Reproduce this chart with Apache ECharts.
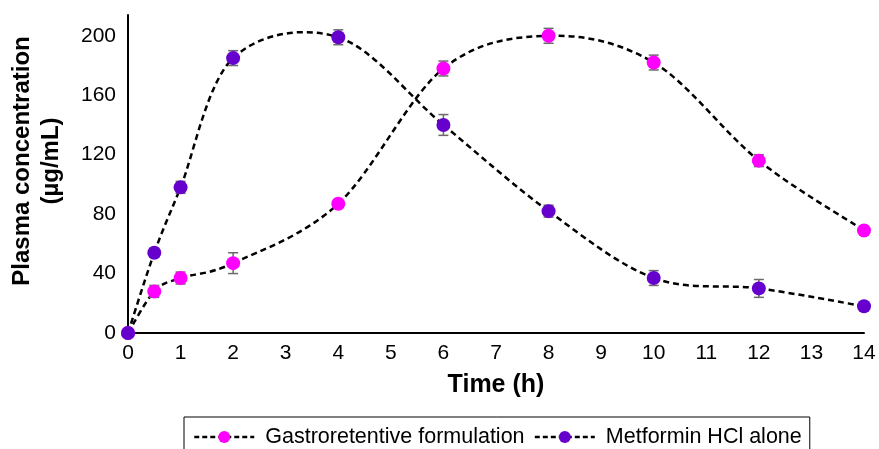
<!DOCTYPE html>
<html>
<head>
<meta charset="utf-8">
<script src="https://cdn.jsdelivr.net/npm/echarts@6/dist/echarts.min.js"></script>
<style>
  html, body { margin: 0; padding: 0; background: #fff; }
  #chart { width: 879px; height: 449px; }
</style>
</head>
<body>
<div id="chart"></div>
<script>
// sampling times (h)
var times = [0, 0.5, 1, 2, 4, 6, 8, 10, 12, 14];
// plasma concentration, µg/mL
var gastroValues = [0, 28, 37, 47, 87, 178, 200, 182, 116, 69];
var gastroErr = [0, 4, 4, 7, 2, 5, 5, 5, 4, 0];
var metforminValues = [0, 54, 98, 185, 199, 140, 82, 37, 30, 18];
var metforminErr = [0, 3, 4, 5, 5, 7, 4, 5, 6, 0];
var seriesNames = ['Gastroretentive formulation', 'Metformin HCl alone'];

var FONT = '"Liberation Sans", Arial, sans-serif';
var DASH = [6, 4];

function pairs(vals) {
  return times.map(function (t, i) { return [t, vals[i]]; });
}
function errRows(vals, errs) {
  return times.map(function (t, i) { return [t, vals[i] - errs[i], vals[i] + errs[i]]; });
}

// whisker with caps
function renderErr(params, api) {
  var x = api.value(0);
  var lo = api.coord([x, api.value(1)]);
  var hi = api.coord([x, api.value(2)]);
  if (Math.abs(hi[1] - lo[1]) < 1) return;
  var w = 5;
  var st = { stroke: '#6a6a6a', lineWidth: 1.5 };
  return {
    type: 'group',
    children: [
      { type: 'line', shape: { x1: lo[0], y1: lo[1], x2: hi[0], y2: hi[1] }, style: st },
      { type: 'line', shape: { x1: lo[0] - w, y1: lo[1], x2: lo[0] + w, y2: lo[1] }, style: st },
      { type: 'line', shape: { x1: hi[0] - w, y1: hi[1], x2: hi[0] + w, y2: hi[1] }, style: st }
    ]
  };
}

// spreadsheet-style smoothed curve (catmull-rom), one segment per point
function curveRenderer(vals) {
  return function (params, api) {
    var i = params.dataIndex;
    var n = times.length;
    if (i >= n - 1) return;
    var pt = function (j) {
      j = Math.max(0, Math.min(n - 1, j));
      return api.coord([times[j], vals[j]]);
    };
    var p0 = pt(i - 1), p1 = pt(i), p2 = pt(i + 1), p3 = pt(i + 2);
    return {
      type: 'bezierCurve',
      shape: {
        x1: p1[0], y1: p1[1],
        cpx1: p1[0] + (p2[0] - p0[0]) / 6, cpy1: p1[1] + (p2[1] - p0[1]) / 6,
        cpx2: p2[0] - (p3[0] - p1[0]) / 6, cpy2: p2[1] - (p3[1] - p1[1]) / 6,
        x2: p2[0], y2: p2[1]
      },
      style: { stroke: '#000', lineWidth: 2.5, lineDash: DASH, fill: null }
    };
  };
}

var chart = echarts.init(document.getElementById('chart'));

chart.setOption({
  backgroundColor: '#fff',
  animation: false,
  grid: { left: 127, right: 15, top: 15, bottom: 116 },
  legend: {
    data: seriesNames,
    left: 184,
    top: 417,
    padding: [9, 8, 9, 9],
    itemGap: 9,
    itemWidth: 60,
    itemHeight: 15,
    borderColor: '#000',
    borderWidth: 1,
    borderRadius: 0,
    lineStyle: { color: '#000', width: 2.5, type: [5, 3], opacity: 1 },
    textStyle: { fontFamily: FONT, fontSize: 21.5, color: '#000', padding: [0, 0, 0, 6] }
  },
  xAxis: {
    type: 'value',
    min: 0,
    max: 14,
    interval: 1,
    name: 'Time (h)',
    nameLocation: 'middle',
    nameGap: 40,
    nameTextStyle: { fontFamily: FONT, fontSize: 25, fontWeight: 'bold', color: '#000' },
    axisLine: { lineStyle: { color: '#000', width: 2 } },
    axisTick: { show: false },
    axisLabel: { fontFamily: FONT, fontSize: 21, color: '#000', margin: 10 },
    splitLine: { show: false }
  },
  yAxis: {
    type: 'value',
    min: 0,
    max: 214,
    interval: 40,
    name: 'Plasma concentration\n(µg/mL)',
    nameLocation: 'middle',
    nameGap: 62,
    nameRotate: 90,
    nameTextStyle: {
      fontFamily: FONT, fontSize: 24, fontWeight: 'bold', color: '#000',
      lineHeight: 29, padding: [0, 0, 0, 26]
    },
    axisLine: { show: true, lineStyle: { color: '#000', width: 2 } },
    axisTick: { show: false },
    axisLabel: {
      fontFamily: FONT, fontSize: 21, color: '#000', margin: 12,
      formatter: function (v) { return v % 40 === 0 ? String(v) : ''; }
    },
    splitLine: { show: false }
  },
  series: [
    {
      type: 'custom',
      renderItem: curveRenderer(gastroValues),
      data: pairs(gastroValues),
      encode: { x: 0, y: 1 },
      z: 1,
      silent: true
    },
    {
      type: 'custom',
      renderItem: curveRenderer(metforminValues),
      data: pairs(metforminValues),
      encode: { x: 0, y: 1 },
      z: 1,
      silent: true
    },
    {
      type: 'custom',
      renderItem: renderErr,
      data: errRows(gastroValues, gastroErr),
      encode: { x: 0, y: [1, 2] },
      z: 1,
      silent: true
    },
    {
      type: 'custom',
      renderItem: renderErr,
      data: errRows(metforminValues, metforminErr),
      encode: { x: 0, y: [1, 2] },
      z: 1,
      silent: true
    },
    {
      name: seriesNames[0],
      type: 'line',
      data: pairs(gastroValues),
      symbol: 'circle',
      symbolSize: 14,
      itemStyle: { color: '#FF00FF' },
      lineStyle: { color: '#000', width: 2, opacity: 0 },
      z: 2
    },
    {
      name: seriesNames[1],
      type: 'line',
      data: pairs(metforminValues),
      symbol: 'circle',
      symbolSize: 14,
      itemStyle: { color: '#6600CC' },
      lineStyle: { color: '#000', width: 2, opacity: 0 },
      z: 3
    }
  ]
});
</script>
</body>
</html>
